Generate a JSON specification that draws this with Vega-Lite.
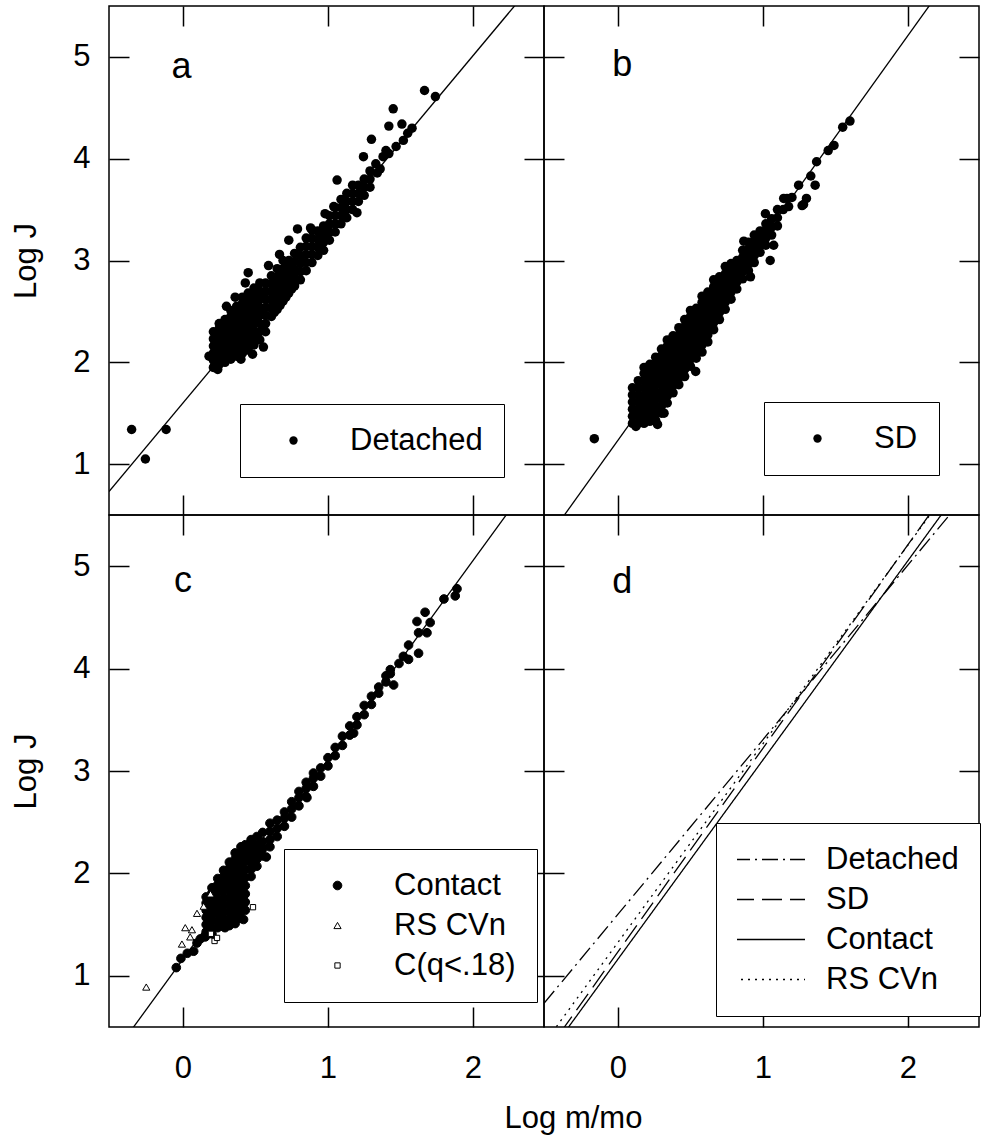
{
"$schema": "https://vega.github.io/schema/vega-lite/v6.json",
"background": "white",
"padding": {"left": 10, "top": 4, "right": 6, "bottom": 5},
"datasets": {
"a": [
{"x":-0.354,"y":1.34},{"x":-0.259,"y":1.05},{"x":-0.116,"y":1.34},
{"x":0.21,"y":1.95},{"x":0.21,"y":2.02},{"x":0.21,"y":2.09},{"x":0.21,"y":2.16},{"x":0.21,"y":2.23},{"x":0.21,"y":2.3},
{"x":0.25,"y":1.98},{"x":0.25,"y":2.05},{"x":0.25,"y":2.12},{"x":0.25,"y":2.19},{"x":0.25,"y":2.26},{"x":0.25,"y":2.33},{"x":0.25,"y":2.38},
{"x":0.29,"y":2.0},{"x":0.29,"y":2.07},{"x":0.29,"y":2.14},{"x":0.29,"y":2.21},{"x":0.29,"y":2.28},{"x":0.29,"y":2.35},{"x":0.29,"y":2.42},
{"x":0.33,"y":2.03},{"x":0.33,"y":2.1},{"x":0.33,"y":2.17},{"x":0.33,"y":2.24},{"x":0.33,"y":2.31},{"x":0.33,"y":2.38},{"x":0.33,"y":2.45},{"x":0.33,"y":2.51},
{"x":0.37,"y":2.06},{"x":0.37,"y":2.13},{"x":0.37,"y":2.2},{"x":0.37,"y":2.27},{"x":0.37,"y":2.34},{"x":0.37,"y":2.41},{"x":0.37,"y":2.48},{"x":0.37,"y":2.55},
{"x":0.41,"y":2.09},{"x":0.41,"y":2.16},{"x":0.41,"y":2.23},{"x":0.41,"y":2.3},{"x":0.41,"y":2.37},{"x":0.41,"y":2.44},{"x":0.41,"y":2.51},{"x":0.41,"y":2.58},{"x":0.41,"y":2.64},
{"x":0.45,"y":2.12},{"x":0.45,"y":2.19},{"x":0.45,"y":2.26},{"x":0.45,"y":2.33},{"x":0.45,"y":2.4},{"x":0.45,"y":2.47},{"x":0.45,"y":2.54},{"x":0.45,"y":2.61},{"x":0.45,"y":2.68},
{"x":0.49,"y":2.17},{"x":0.49,"y":2.24},{"x":0.49,"y":2.31},{"x":0.49,"y":2.38},{"x":0.49,"y":2.45},{"x":0.49,"y":2.52},{"x":0.49,"y":2.59},{"x":0.49,"y":2.66},{"x":0.49,"y":2.73},
{"x":0.53,"y":2.22},{"x":0.53,"y":2.3},{"x":0.53,"y":2.38},{"x":0.53,"y":2.46},{"x":0.53,"y":2.54},{"x":0.53,"y":2.62},{"x":0.53,"y":2.7},{"x":0.53,"y":2.78},
{"x":0.57,"y":2.3},{"x":0.57,"y":2.38},{"x":0.57,"y":2.46},{"x":0.57,"y":2.54},{"x":0.57,"y":2.62},{"x":0.57,"y":2.7},{"x":0.57,"y":2.78},
{"x":0.55,"y":2.34},{"x":0.55,"y":2.5},{"x":0.55,"y":2.66},{"x":0.51,"y":2.27},{"x":0.51,"y":2.42},{"x":0.51,"y":2.57},{"x":0.51,"y":2.7},
{"x":0.45,"y":2.88},{"x":0.555,"y":2.15},{"x":0.4,"y":2.03},{"x":0.3,"y":2.55},{"x":0.36,"y":2.64},{"x":0.18,"y":2.06},{"x":0.24,"y":1.93},{"x":0.48,"y":2.08},{"x":0.43,"y":2.78},
{"x":0.61,"y":2.45},{"x":0.61,"y":2.53},{"x":0.61,"y":2.61},{"x":0.61,"y":2.69},{"x":0.61,"y":2.77},{"x":0.61,"y":2.85},
{"x":0.63,"y":2.49},{"x":0.63,"y":2.57},{"x":0.63,"y":2.65},{"x":0.63,"y":2.73},{"x":0.63,"y":2.81},
{"x":0.65,"y":2.52},{"x":0.65,"y":2.6},{"x":0.65,"y":2.68},{"x":0.65,"y":2.76},{"x":0.65,"y":2.84},{"x":0.65,"y":2.92},
{"x":0.67,"y":2.56},{"x":0.67,"y":2.64},{"x":0.67,"y":2.72},{"x":0.67,"y":2.8},{"x":0.67,"y":2.88},
{"x":0.69,"y":2.6},{"x":0.69,"y":2.68},{"x":0.69,"y":2.76},{"x":0.69,"y":2.84},{"x":0.69,"y":2.92},{"x":0.69,"y":3.0},
{"x":0.71,"y":2.64},{"x":0.71,"y":2.72},{"x":0.71,"y":2.8},{"x":0.71,"y":2.88},{"x":0.71,"y":2.96},
{"x":0.73,"y":2.68},{"x":0.73,"y":2.76},{"x":0.73,"y":2.84},{"x":0.73,"y":2.92},{"x":0.73,"y":3.0},{"x":0.73,"y":3.2},
{"x":0.75,"y":2.72},{"x":0.75,"y":2.8},{"x":0.75,"y":2.88},{"x":0.75,"y":2.96},
{"x":0.77,"y":2.75},{"x":0.77,"y":2.83},{"x":0.77,"y":2.91},{"x":0.77,"y":2.99},{"x":0.77,"y":3.07},
{"x":0.81,"y":2.81},{"x":0.81,"y":2.89},{"x":0.81,"y":2.97},{"x":0.81,"y":3.05},{"x":0.81,"y":3.13},{"x":0.79,"y":3.31},
{"x":0.85,"y":2.9},{"x":0.85,"y":2.98},{"x":0.85,"y":3.06},{"x":0.85,"y":3.14},{"x":0.85,"y":3.22},
{"x":0.89,"y":2.98},{"x":0.89,"y":3.06},{"x":0.89,"y":3.14},{"x":0.89,"y":3.22},{"x":0.89,"y":3.3},
{"x":0.93,"y":3.05},{"x":0.93,"y":3.13},{"x":0.93,"y":3.21},{"x":0.93,"y":3.29},
{"x":0.97,"y":3.1},{"x":0.97,"y":3.18},{"x":0.97,"y":3.26},{"x":0.97,"y":3.34},{"x":0.98,"y":3.46},
{"x":1.01,"y":3.2},{"x":1.01,"y":3.28},{"x":1.01,"y":3.36},{"x":1.01,"y":3.44},{"x":1.04,"y":3.53},
{"x":1.05,"y":3.28},{"x":1.05,"y":3.36},{"x":1.05,"y":3.44},{"x":1.05,"y":3.52},
{"x":1.09,"y":3.36},{"x":1.09,"y":3.44},{"x":1.09,"y":3.52},{"x":1.09,"y":3.6},
{"x":1.13,"y":3.42},{"x":1.13,"y":3.5},{"x":1.13,"y":3.58},{"x":1.13,"y":3.66},
{"x":1.17,"y":3.5},{"x":1.17,"y":3.58},{"x":1.17,"y":3.66},{"x":1.17,"y":3.74},
{"x":1.21,"y":3.58},{"x":1.21,"y":3.66},{"x":1.21,"y":3.74},
{"x":1.25,"y":3.64},{"x":1.25,"y":3.72},{"x":1.25,"y":3.8},
{"x":1.29,"y":3.72},{"x":1.29,"y":3.8},{"x":1.29,"y":3.88},
{"x":0.666,"y":3.06},{"x":0.59,"y":2.95},{"x":0.88,"y":3.32},{"x":1.063,"y":3.79},{"x":1.245,"y":4.02},{"x":1.3,"y":4.19},{"x":1.33,"y":3.95},{"x":1.36,"y":3.9},{"x":1.38,"y":4.02},{"x":1.42,"y":4.32},{"x":1.42,"y":4.05},{"x":1.45,"y":4.49},{"x":1.47,"y":4.12},{"x":1.51,"y":4.34},{"x":1.52,"y":4.18},{"x":1.55,"y":4.25},{"x":1.58,"y":4.3},{"x":1.666,"y":4.67},{"x":1.741,"y":4.61},{"x":1.2,"y":3.47},{"x":1.34,"y":3.86},{"x":1.4,"y":4.08}
],
"b": [
{"x":-0.163,"y":1.25},{"x":0.124,"y":1.37},{"x":0.273,"y":1.39},{"x":0.318,"y":1.5},{"x":0.536,"y":1.91},
{"x":0.1,"y":1.4},{"x":0.1,"y":1.47},{"x":0.1,"y":1.54},{"x":0.1,"y":1.61},{"x":0.1,"y":1.68},{"x":0.1,"y":1.75},
{"x":0.14,"y":1.4},{"x":0.14,"y":1.47},{"x":0.14,"y":1.54},{"x":0.14,"y":1.61},{"x":0.14,"y":1.68},{"x":0.14,"y":1.75},{"x":0.14,"y":1.82},
{"x":0.18,"y":1.4},{"x":0.18,"y":1.47},{"x":0.18,"y":1.54},{"x":0.18,"y":1.61},{"x":0.18,"y":1.68},{"x":0.18,"y":1.75},{"x":0.18,"y":1.82},{"x":0.18,"y":1.89},{"x":0.18,"y":1.95},
{"x":0.22,"y":1.42},{"x":0.22,"y":1.49},{"x":0.22,"y":1.56},{"x":0.22,"y":1.63},{"x":0.22,"y":1.7},{"x":0.22,"y":1.77},{"x":0.22,"y":1.84},{"x":0.22,"y":1.91},{"x":0.22,"y":1.98},
{"x":0.26,"y":1.43},{"x":0.26,"y":1.5},{"x":0.26,"y":1.57},{"x":0.26,"y":1.64},{"x":0.26,"y":1.71},{"x":0.26,"y":1.78},{"x":0.26,"y":1.85},{"x":0.26,"y":1.92},{"x":0.26,"y":1.99},{"x":0.26,"y":2.05},
{"x":0.3,"y":1.5},{"x":0.3,"y":1.57},{"x":0.3,"y":1.64},{"x":0.3,"y":1.71},{"x":0.3,"y":1.78},{"x":0.3,"y":1.85},{"x":0.3,"y":1.92},{"x":0.3,"y":1.99},{"x":0.3,"y":2.06},{"x":0.3,"y":2.13},
{"x":0.34,"y":1.6},{"x":0.34,"y":1.67},{"x":0.34,"y":1.74},{"x":0.34,"y":1.81},{"x":0.34,"y":1.88},{"x":0.34,"y":1.95},{"x":0.34,"y":2.02},{"x":0.34,"y":2.09},{"x":0.34,"y":2.16},{"x":0.34,"y":2.22},
{"x":0.38,"y":1.7},{"x":0.38,"y":1.77},{"x":0.38,"y":1.84},{"x":0.38,"y":1.91},{"x":0.38,"y":1.98},{"x":0.38,"y":2.05},{"x":0.38,"y":2.12},{"x":0.38,"y":2.19},{"x":0.38,"y":2.26},
{"x":0.42,"y":1.78},{"x":0.42,"y":1.85},{"x":0.42,"y":1.92},{"x":0.42,"y":1.99},{"x":0.42,"y":2.06},{"x":0.42,"y":2.13},{"x":0.42,"y":2.2},{"x":0.42,"y":2.27},{"x":0.42,"y":2.34},
{"x":0.46,"y":1.86},{"x":0.46,"y":1.93},{"x":0.46,"y":2.0},{"x":0.46,"y":2.07},{"x":0.46,"y":2.14},{"x":0.46,"y":2.21},{"x":0.46,"y":2.28},{"x":0.46,"y":2.35},{"x":0.46,"y":2.42},
{"x":0.5,"y":1.96},{"x":0.5,"y":2.03},{"x":0.5,"y":2.1},{"x":0.5,"y":2.17},{"x":0.5,"y":2.24},{"x":0.5,"y":2.31},{"x":0.5,"y":2.38},{"x":0.5,"y":2.45},{"x":0.5,"y":2.51},
{"x":0.54,"y":2.04},{"x":0.54,"y":2.11},{"x":0.54,"y":2.18},{"x":0.54,"y":2.25},{"x":0.54,"y":2.32},{"x":0.54,"y":2.39},{"x":0.54,"y":2.46},{"x":0.54,"y":2.53},
{"x":0.58,"y":2.1},{"x":0.58,"y":2.17},{"x":0.58,"y":2.24},{"x":0.58,"y":2.31},{"x":0.58,"y":2.38},{"x":0.58,"y":2.45},{"x":0.58,"y":2.52},{"x":0.58,"y":2.59},{"x":0.58,"y":2.65},
{"x":0.62,"y":2.2},{"x":0.62,"y":2.27},{"x":0.62,"y":2.34},{"x":0.62,"y":2.41},{"x":0.62,"y":2.48},{"x":0.62,"y":2.55},{"x":0.62,"y":2.62},{"x":0.62,"y":2.69},
{"x":0.66,"y":2.32},{"x":0.66,"y":2.39},{"x":0.66,"y":2.46},{"x":0.66,"y":2.53},{"x":0.66,"y":2.6},{"x":0.66,"y":2.67},{"x":0.66,"y":2.74},{"x":0.66,"y":2.81},
{"x":0.7,"y":2.42},{"x":0.7,"y":2.49},{"x":0.7,"y":2.56},{"x":0.7,"y":2.63},{"x":0.7,"y":2.7},{"x":0.7,"y":2.77},{"x":0.7,"y":2.84},
{"x":0.74,"y":2.52},{"x":0.74,"y":2.59},{"x":0.74,"y":2.66},{"x":0.74,"y":2.73},{"x":0.74,"y":2.8},{"x":0.74,"y":2.87},{"x":0.74,"y":2.94},
{"x":0.78,"y":2.62},{"x":0.78,"y":2.69},{"x":0.78,"y":2.76},{"x":0.78,"y":2.83},{"x":0.78,"y":2.9},{"x":0.78,"y":2.97},
{"x":0.82,"y":2.72},{"x":0.82,"y":2.79},{"x":0.82,"y":2.86},{"x":0.82,"y":2.93},{"x":0.82,"y":3.0},
{"x":0.86,"y":2.82},{"x":0.86,"y":2.89},{"x":0.86,"y":2.96},{"x":0.86,"y":3.03},{"x":0.86,"y":3.1},
{"x":0.9,"y":2.9},{"x":0.9,"y":2.97},{"x":0.9,"y":3.04},{"x":0.9,"y":3.11},{"x":0.9,"y":3.18},
{"x":0.94,"y":2.98},{"x":0.94,"y":3.05},{"x":0.94,"y":3.12},{"x":0.94,"y":3.19},{"x":0.94,"y":3.25},
{"x":0.98,"y":3.08},{"x":0.98,"y":3.15},{"x":0.98,"y":3.22},{"x":0.98,"y":3.29},
{"x":1.02,"y":3.15},{"x":1.02,"y":3.22},{"x":1.02,"y":3.29},{"x":1.02,"y":3.36},
{"x":1.06,"y":3.25},{"x":1.06,"y":3.33},{"x":1.06,"y":3.41},
{"x":1.1,"y":3.34},{"x":1.1,"y":3.42},{"x":1.1,"y":3.5},
{"x":1.017,"y":3.46},{"x":1.05,"y":3.0},{"x":1.074,"y":3.15},{"x":1.143,"y":3.61},{"x":1.166,"y":3.61},{"x":1.177,"y":3.53},{"x":1.14,"y":3.5},{"x":1.2,"y":3.62},{"x":1.246,"y":3.74},{"x":1.27,"y":3.54},{"x":1.28,"y":3.55},{"x":1.3,"y":3.61},{"x":1.33,"y":3.83},{"x":1.36,"y":3.74},{"x":1.37,"y":3.97},{"x":1.45,"y":4.08},{"x":1.49,"y":4.13},{"x":1.55,"y":4.31},{"x":1.6,"y":4.37},{"x":0.914,"y":2.84},{"x":0.868,"y":3.19}
],
"c": [
{"x":-0.046,"y":1.08,"t":"Contact"},{"x":-0.014,"y":1.17,"t":"Contact"},{"x":0.03,"y":1.22,"t":"Contact"},{"x":0.074,"y":1.24,"t":"Contact"},{"x":0.097,"y":1.32,"t":"Contact"},{"x":0.12,"y":1.36,"t":"Contact"},{"x":0.154,"y":1.38,"t":"Contact"},{"x":0.2,"y":1.41,"t":"Contact"},
{"x":0.16,"y":1.43,"t":"Contact"},{"x":0.16,"y":1.5,"t":"Contact"},{"x":0.16,"y":1.57,"t":"Contact"},{"x":0.16,"y":1.64,"t":"Contact"},{"x":0.16,"y":1.71,"t":"Contact"},{"x":0.16,"y":1.77,"t":"Contact"},
{"x":0.2,"y":1.46,"t":"Contact"},{"x":0.2,"y":1.53,"t":"Contact"},{"x":0.2,"y":1.6,"t":"Contact"},{"x":0.2,"y":1.67,"t":"Contact"},{"x":0.2,"y":1.74,"t":"Contact"},{"x":0.2,"y":1.81,"t":"Contact"},{"x":0.2,"y":1.86,"t":"Contact"},
{"x":0.24,"y":1.47,"t":"Contact"},{"x":0.24,"y":1.54,"t":"Contact"},{"x":0.24,"y":1.61,"t":"Contact"},{"x":0.24,"y":1.68,"t":"Contact"},{"x":0.24,"y":1.75,"t":"Contact"},{"x":0.24,"y":1.82,"t":"Contact"},{"x":0.24,"y":1.89,"t":"Contact"},{"x":0.24,"y":1.95,"t":"Contact"},
{"x":0.28,"y":1.48,"t":"Contact"},{"x":0.28,"y":1.55,"t":"Contact"},{"x":0.28,"y":1.62,"t":"Contact"},{"x":0.28,"y":1.69,"t":"Contact"},{"x":0.28,"y":1.76,"t":"Contact"},{"x":0.28,"y":1.83,"t":"Contact"},{"x":0.28,"y":1.9,"t":"Contact"},{"x":0.28,"y":1.97,"t":"Contact"},{"x":0.28,"y":2.03,"t":"Contact"},
{"x":0.32,"y":1.49,"t":"Contact"},{"x":0.32,"y":1.56,"t":"Contact"},{"x":0.32,"y":1.63,"t":"Contact"},{"x":0.32,"y":1.7,"t":"Contact"},{"x":0.32,"y":1.77,"t":"Contact"},{"x":0.32,"y":1.84,"t":"Contact"},{"x":0.32,"y":1.91,"t":"Contact"},{"x":0.32,"y":1.98,"t":"Contact"},{"x":0.32,"y":2.05,"t":"Contact"},{"x":0.32,"y":2.11,"t":"Contact"},
{"x":0.36,"y":1.51,"t":"Contact"},{"x":0.36,"y":1.58,"t":"Contact"},{"x":0.36,"y":1.65,"t":"Contact"},{"x":0.36,"y":1.72,"t":"Contact"},{"x":0.36,"y":1.79,"t":"Contact"},{"x":0.36,"y":1.86,"t":"Contact"},{"x":0.36,"y":1.93,"t":"Contact"},{"x":0.36,"y":2.0,"t":"Contact"},{"x":0.36,"y":2.07,"t":"Contact"},{"x":0.36,"y":2.14,"t":"Contact"},{"x":0.36,"y":2.2,"t":"Contact"},
{"x":0.4,"y":1.56,"t":"Contact"},{"x":0.4,"y":1.63,"t":"Contact"},{"x":0.4,"y":1.7,"t":"Contact"},{"x":0.4,"y":1.77,"t":"Contact"},{"x":0.4,"y":1.84,"t":"Contact"},{"x":0.4,"y":1.91,"t":"Contact"},{"x":0.4,"y":1.98,"t":"Contact"},{"x":0.4,"y":2.05,"t":"Contact"},{"x":0.4,"y":2.12,"t":"Contact"},{"x":0.4,"y":2.19,"t":"Contact"},{"x":0.4,"y":2.26,"t":"Contact"},
{"x":0.43,"y":1.64,"t":"Contact"},{"x":0.43,"y":1.72,"t":"Contact"},{"x":0.43,"y":1.8,"t":"Contact"},{"x":0.43,"y":1.88,"t":"Contact"},{"x":0.43,"y":1.96,"t":"Contact"},{"x":0.43,"y":2.04,"t":"Contact"},{"x":0.43,"y":2.12,"t":"Contact"},{"x":0.43,"y":2.2,"t":"Contact"},{"x":0.43,"y":2.28,"t":"Contact"},
{"x":0.47,"y":1.97,"t":"Contact"},{"x":0.47,"y":2.04,"t":"Contact"},{"x":0.47,"y":2.11,"t":"Contact"},{"x":0.47,"y":2.18,"t":"Contact"},{"x":0.47,"y":2.25,"t":"Contact"},{"x":0.47,"y":2.33,"t":"Contact"},
{"x":0.51,"y":2.07,"t":"Contact"},{"x":0.51,"y":2.14,"t":"Contact"},{"x":0.51,"y":2.21,"t":"Contact"},{"x":0.51,"y":2.28,"t":"Contact"},{"x":0.51,"y":2.36,"t":"Contact"},
{"x":0.55,"y":2.17,"t":"Contact"},{"x":0.55,"y":2.24,"t":"Contact"},{"x":0.55,"y":2.31,"t":"Contact"},{"x":0.55,"y":2.4,"t":"Contact"},
{"x":0.6,"y":2.26,"t":"Contact"},{"x":0.6,"y":2.33,"t":"Contact"},{"x":0.6,"y":2.41,"t":"Contact"},{"x":0.6,"y":2.49,"t":"Contact"},
{"x":0.65,"y":2.36,"t":"Contact"},{"x":0.65,"y":2.44,"t":"Contact"},{"x":0.65,"y":2.52,"t":"Contact"},
{"x":0.7,"y":2.46,"t":"Contact"},{"x":0.7,"y":2.54,"t":"Contact"},{"x":0.7,"y":2.6,"t":"Contact"},
{"x":0.75,"y":2.55,"t":"Contact"},{"x":0.75,"y":2.63,"t":"Contact"},{"x":0.75,"y":2.7,"t":"Contact"},
{"x":0.8,"y":2.66,"t":"Contact"},{"x":0.8,"y":2.74,"t":"Contact"},{"x":0.8,"y":2.8,"t":"Contact"},
{"x":0.85,"y":2.75,"t":"Contact"},{"x":0.85,"y":2.83,"t":"Contact"},{"x":0.85,"y":2.89,"t":"Contact"},
{"x":0.9,"y":2.85,"t":"Contact"},{"x":0.9,"y":2.93,"t":"Contact"},{"x":0.9,"y":2.98,"t":"Contact"},
{"x":0.95,"y":2.95,"t":"Contact"},{"x":0.95,"y":3.03,"t":"Contact"},
{"x":1.0,"y":3.05,"t":"Contact"},{"x":1.0,"y":3.13,"t":"Contact"},
{"x":1.05,"y":3.15,"t":"Contact"},{"x":1.05,"y":3.23,"t":"Contact"},
{"x":1.1,"y":3.25,"t":"Contact"},{"x":1.1,"y":3.34,"t":"Contact"},
{"x":1.15,"y":3.35,"t":"Contact"},{"x":1.15,"y":3.44,"t":"Contact"},
{"x":1.2,"y":3.45,"t":"Contact"},{"x":1.2,"y":3.53,"t":"Contact"},
{"x":1.25,"y":3.55,"t":"Contact"},{"x":1.25,"y":3.64,"t":"Contact"},
{"x":1.3,"y":3.65,"t":"Contact"},{"x":1.3,"y":3.73,"t":"Contact"},
{"x":1.35,"y":3.76,"t":"Contact"},{"x":1.35,"y":3.82,"t":"Contact"},
{"x":1.4,"y":3.87,"t":"Contact"},{"x":1.4,"y":3.93,"t":"Contact"},
{"x":1.43,"y":3.95,"t":"Contact"},{"x":1.43,"y":3.99,"t":"Contact"},
{"x":1.453,"y":3.84,"t":"Contact"},{"x":0.575,"y":2.16,"t":"Contact"},{"x":0.855,"y":2.74,"t":"Contact"},{"x":1.177,"y":3.37,"t":"Contact"},{"x":0.418,"y":1.55,"t":"Contact"},{"x":0.29,"y":1.47,"t":"Contact"},
{"x":1.49,"y":4.05,"t":"Contact"},{"x":1.52,"y":4.12,"t":"Contact"},{"x":1.556,"y":4.23,"t":"Contact"},{"x":1.556,"y":4.09,"t":"Contact"},{"x":1.625,"y":4.15,"t":"Contact"},{"x":1.614,"y":4.46,"t":"Contact"},{"x":1.625,"y":4.35,"t":"Contact"},{"x":1.683,"y":4.35,"t":"Contact"},{"x":1.705,"y":4.45,"t":"Contact"},{"x":1.67,"y":4.55,"t":"Contact"},{"x":1.8,"y":4.68,"t":"Contact"},{"x":1.878,"y":4.71,"t":"Contact"},{"x":1.89,"y":4.78,"t":"Contact"},
{"x":-0.253,"y":0.89,"t":"RS CVn"},{"x":-0.007,"y":1.31,"t":"RS CVn"},{"x":0.016,"y":1.47,"t":"RS CVn"},{"x":0.062,"y":1.45,"t":"RS CVn"},{"x":0.097,"y":1.61,"t":"RS CVn"},{"x":0.143,"y":1.68,"t":"RS CVn"},{"x":0.19,"y":1.8,"t":"RS CVn"},{"x":0.05,"y":1.38,"t":"RS CVn"},
{"x":0.483,"y":1.67,"t":"C(q<.18)"},{"x":0.218,"y":1.34,"t":"C(q<.18)"},{"x":0.193,"y":1.41,"t":"C(q<.18)"},{"x":0.235,"y":1.37,"t":"C(q<.18)"}
],
"d": [
{"t":"Detached","x":-0.51,"y":0.731},{"t":"Detached","x":2.49,"y":5.847},
{"t":"SD","x":-0.51,"y":0.22},{"t":"SD","x":2.49,"y":6.184},
{"t":"Contact","x":-0.51,"y":0.17},{"t":"Contact","x":2.49,"y":6.008},
{"t":"RS CVn","x":-0.51,"y":0.337},{"t":"RS CVn","x":2.49,"y":6.157}
]
},
"columns": 2,
"spacing": 0,
"bounds": "flush",
"concat": [
{
"width": 435, "height": 509,
"layer": [
{"data": {"name": "a"},
 "mark": {"type": "point", "filled": true, "size": 90, "opacity": 1},
 "encoding": {
  "x": {"field": "x", "type": "quantitative", "scale": {"domain": [-0.51, 2.49], "nice": false, "zero": false}, "axis": {"orient": "bottom", "values": [0, 1, 2], "labels": false, "title": null}},
  "y": {"field": "y", "type": "quantitative", "scale": {"domain": [0.5, 5.5], "nice": false, "zero": false}, "axis": {"orient": "left", "values": [1, 2, 3, 4, 5], "title": "Log J", "labelPadding": 39, "titlePadding": 30}},
  "fill": {"datum": "Detached", "type": "nominal", "scale": {"domain": ["Detached"], "range": ["black"]}, "legend": {"title": null, "legendX": 131, "legendY": 398, "labelOffset": 41, "symbolOffset": 17, "symbolSize": 70}}
 }},
{"data": {"name": "d"},
 "transform": [{"filter": "datum.t == 'Detached'"}],
 "mark": {"type": "line", "color": "black", "strokeWidth": 1.3, "clip": true},
 "encoding": {
  "x": {"field": "x", "type": "quantitative", "axis": {"orient": "top", "values": [0, 1, 2], "labels": false, "title": null}},
  "y": {"field": "y", "type": "quantitative", "axis": {"orient": "right", "values": [1, 2, 3, 4, 5], "labels": false, "title": null}}
 }},
{"data": {"values": [{}]},
 "mark": {"type": "text", "text": "a", "font": "Liberation Sans", "fontSize": 36, "align": "center", "baseline": "alphabetic", "color": "black"},
 "encoding": {"x": {"datum": -0.01, "type": "quantitative", "axis": null}, "y": {"datum": 4.79, "type": "quantitative", "axis": null}}}
],
"resolve": {"axis": {"x": "independent", "y": "independent"}}
},
{
"width": 435, "height": 509,
"layer": [
{"data": {"name": "b"},
 "mark": {"type": "point", "filled": true, "size": 90, "opacity": 1},
 "encoding": {
  "x": {"field": "x", "type": "quantitative", "scale": {"domain": [-0.51, 2.49], "nice": false, "zero": false}, "axis": {"orient": "bottom", "values": [0, 1, 2], "labels": false, "title": null}},
  "y": {"field": "y", "type": "quantitative", "scale": {"domain": [0.5, 5.5], "nice": false, "zero": false}, "axis": {"orient": "left", "values": [1, 2, 3, 4, 5], "labels": false, "title": null}},
  "fill": {"datum": "SD", "type": "nominal", "scale": {"domain": ["SD"], "range": ["black"]}, "legend": {"title": null, "legendX": 220, "legendY": 396, "labelOffset": 41, "symbolOffset": 17, "symbolSize": 70}}
 }},
{"data": {"name": "d"},
 "transform": [{"filter": "datum.t == 'SD'"}],
 "mark": {"type": "line", "color": "black", "strokeWidth": 1.3, "clip": true},
 "encoding": {
  "x": {"field": "x", "type": "quantitative", "axis": {"orient": "top", "values": [0, 1, 2], "labels": false, "title": null}},
  "y": {"field": "y", "type": "quantitative", "axis": {"orient": "right", "values": [1, 2, 3, 4, 5], "labels": false, "title": null}}
 }},
{"data": {"values": [{}]},
 "mark": {"type": "text", "text": "b", "font": "Liberation Sans", "fontSize": 36, "align": "center", "baseline": "alphabetic", "color": "black"},
 "encoding": {"x": {"datum": 0.03, "type": "quantitative", "axis": null}, "y": {"datum": 4.81, "type": "quantitative", "axis": null}}}
],
"resolve": {"axis": {"x": "independent", "y": "independent"}}
},
{
"width": 435, "height": 512,
"layer": [
{"data": {"name": "c"},
 "mark": {"type": "point", "filled": true, "strokeWidth": 1, "opacity": 1},
 "encoding": {
  "x": {"field": "x", "type": "quantitative", "scale": {"domain": [-0.51, 2.49], "nice": false, "zero": false}, "axis": {"orient": "bottom", "values": [0, 1, 2], "labelPadding": 46, "title": "Log m/mo", "titleX": 464, "titleY": 100, "titleBaseline": "alphabetic", "titleAlign": "center"}},
  "y": {"field": "y", "type": "quantitative", "scale": {"domain": [0.5, 5.5], "nice": false, "zero": false}, "axis": {"orient": "left", "values": [1, 2, 3, 4, 5], "title": "Log J", "labelPadding": 39, "titlePadding": 30}},
  "fill": {"field": "t", "type": "nominal", "scale": {"domain": ["Contact", "RS CVn", "C(q<.18)"], "range": ["black", "white", "white"]}, "legend": {"title": null, "legendX": 175, "legendY": 334, "labelOffset": 41, "symbolOffset": 17}},
  "stroke": {"field": "t", "type": "nominal", "scale": {"domain": ["Contact", "RS CVn", "C(q<.18)"], "range": ["black", "black", "black"]}, "legend": {"title": null, "legendX": 175, "legendY": 334, "labelOffset": 41, "symbolOffset": 17}},
  "shape": {"field": "t", "type": "nominal", "scale": {"domain": ["Contact", "RS CVn", "C(q<.18)"], "range": ["circle", "triangle-up", "square"]}, "legend": {"title": null, "legendX": 175, "legendY": 334, "labelOffset": 41, "symbolOffset": 17}},
  "size": {"field": "t", "type": "nominal", "scale": {"domain": ["Contact", "RS CVn", "C(q<.18)"], "range": [75, 28, 28]}, "legend": {"title": null, "legendX": 175, "legendY": 334, "labelOffset": 41, "symbolOffset": 17}}
 }},
{"data": {"name": "d"},
 "transform": [{"filter": "datum.t == 'Contact'"}],
 "mark": {"type": "line", "color": "black", "strokeWidth": 1.3, "clip": true},
 "encoding": {
  "x": {"field": "x", "type": "quantitative", "axis": {"orient": "top", "values": [0, 1, 2], "labels": false, "title": null}},
  "y": {"field": "y", "type": "quantitative", "axis": {"orient": "right", "values": [1, 2, 3, 4, 5], "labels": false, "title": null}}
 }},
{"data": {"values": [{}]},
 "mark": {"type": "text", "text": "c", "font": "Liberation Sans", "fontSize": 36, "align": "center", "baseline": "alphabetic", "color": "black"},
 "encoding": {"x": {"datum": 0.0, "type": "quantitative", "axis": null}, "y": {"datum": 4.75, "type": "quantitative", "axis": null}}}
],
"resolve": {"axis": {"x": "independent", "y": "independent"}}
},
{
"width": 435, "height": 512,
"layer": [
{"data": {"name": "d"},
 "mark": {"type": "line", "color": "black", "strokeWidth": 1.3, "clip": true},
 "encoding": {
  "x": {"field": "x", "type": "quantitative", "scale": {"domain": [-0.51, 2.49], "nice": false, "zero": false}, "axis": {"orient": "bottom", "values": [0, 1, 2], "labelPadding": 46, "title": null}},
  "y": {"field": "y", "type": "quantitative", "scale": {"domain": [0.5, 5.5], "nice": false, "zero": false}, "axis": {"orient": "left", "values": [1, 2, 3, 4, 5], "labels": false, "title": null}},
  "strokeDash": {"field": "t", "type": "nominal", "scale": {"domain": ["Detached", "SD", "Contact", "RS CVn"], "range": [[16, 5, 2, 5], [20, 8], [1, 0], [2, 5]]}, "legend": {"title": null, "legendX": 172, "legendY": 308, "labelOffset": 20, "symbolOffset": -4, "symbolSize": 5041, "symbolStrokeWidth": 1.5, "symbolType": "stroke", "clipHeight": 31}}
 }},
{"data": {"values": [{}]},
 "mark": {"type": "text", "text": "d", "font": "Liberation Sans", "fontSize": 36, "align": "center", "baseline": "alphabetic", "color": "black"},
 "encoding": {
  "x": {"datum": 0.03, "type": "quantitative", "axis": {"orient": "top", "values": [0, 1, 2], "labels": false, "title": null}},
  "y": {"datum": 4.74, "type": "quantitative", "axis": {"orient": "right", "values": [1, 2, 3, 4, 5], "labels": false, "title": null}}
 }}
],
"resolve": {"axis": {"x": "independent", "y": "independent"}}
}
],
"resolve": {"scale": {"x": "independent", "y": "independent", "fill": "independent", "stroke": "independent", "shape": "independent", "size": "independent", "strokeDash": "independent"}, "legend": {"fill": "independent", "stroke": "independent", "shape": "independent", "size": "independent", "strokeDash": "independent"}},
"config": {
 "font": "Liberation Sans",
 "view": {"stroke": "black", "strokeWidth": 1.5},
 "axis": {"grid": false, "domain": false, "ticks": true, "tickSize": -20, "tickColor": "black", "tickWidth": 1.5, "tickOpacity": 1, "zindex": 1, "labelFont": "Liberation Sans", "labelFontSize": 31, "labelColor": "black", "labelFlush": false, "labelOverlap": false, "titleFont": "Liberation Sans", "titleFontSize": 31, "titleFontWeight": "normal", "titleColor": "black"},
 "legend": {"orient": "none", "padding": 21, "strokeColor": "black", "fillColor": "white", "labelFont": "Liberation Sans", "labelFontSize": 31, "labelColor": "black", "labelLimit": 0, "rowPadding": 8, "symbolStrokeWidth": 1}
}
}
